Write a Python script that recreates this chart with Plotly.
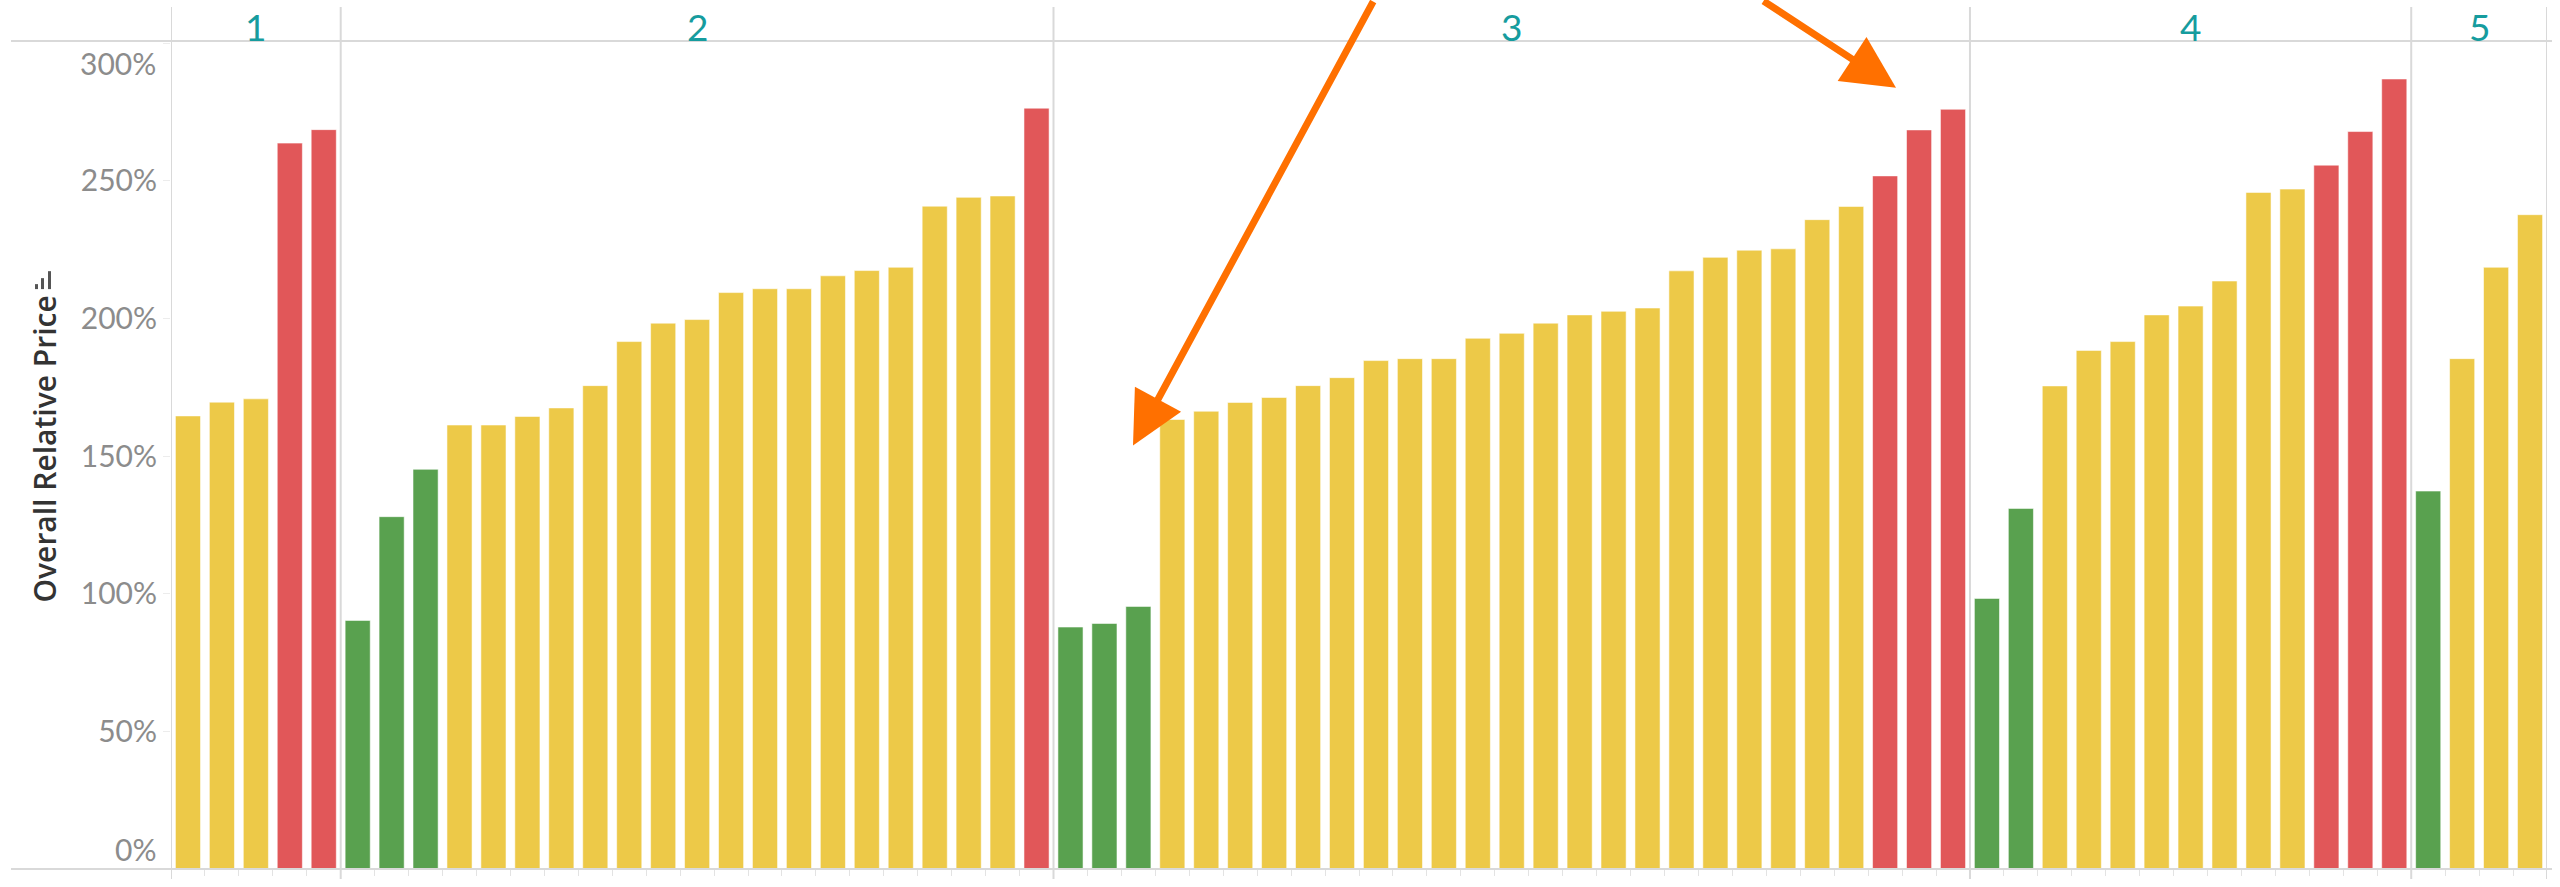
import plotly.graph_objects as go

# ---- data ----
group_names = ["1", "2", "3", "4", "5"]
group1 = [164.6, 169.6, 170.8, 263.7, 268.6]
group2 = [90.3, 128.0, 145.2, 161.3, 161.3, 164.4, 167.5, 175.6, 191.6, 198.3, 199.6,
          209.4, 210.8, 210.8, 215.5, 217.4, 218.6, 240.8, 244.0, 244.5, 276.4]
group3 = [87.9, 89.2, 95.4, 163.3, 166.3, 169.5, 171.3, 175.6, 178.5, 184.7, 185.4,
          185.4, 192.8, 194.6, 198.3, 201.3, 202.6, 203.8, 217.3, 222.2, 224.8, 225.3,
          235.9, 240.7, 251.8, 268.5, 276.0]
group4 = [98.3, 131.0, 175.5, 188.4, 191.6, 201.3, 204.5, 213.6, 245.8, 247.0, 255.7,
          267.9, 287.0]
group5 = [137.3, 185.4, 218.6, 237.7]
y_ticks = [0, 50, 100, 150, 200, 250, 300]
y_tick_labels = ["0%", "50%", "100%", "150%", "200%", "250%", "300%"]
low_threshold = 150
high_threshold = 250

groups = [group1, group2, group3, group4, group5]

GREEN = "#59A14F"
YELLOW = "#EDC948"
RED = "#E15759"
GRID = "#d9d9d9"
TEAL = "#169c9e"
TICK_GRAY = "#8c8c8c"

values = []
group_of_bar = []
for name, g in zip(group_names, groups):
    values.extend(g)
    group_of_bar.extend([name] * len(g))
positions = list(range(len(values)))

def band_color(v):
    if v < low_threshold:
        return GREEN
    if v > high_threshold:
        return RED
    return YELLOW

colors = [band_color(v) for v in values]

fig = go.Figure()
fig.add_trace(go.Bar(
    x=positions, y=values, width=0.74,
    marker=dict(color=colors, line=dict(color="rgba(255,255,255,0.55)", width=1)),
    customdata=group_of_bar,
    hovertemplate="Group %{customdata}<br>%{y:.1f}%<extra></extra>",
    showlegend=False,
))

W, H = 2560, 887
L, R, T, B = 171, 13, 41, 15
plot_w = W - L - R
plot_h = H - T - B

def px_x(p):
    return (p - L) / plot_w

def px_y(p):
    return (H - B - p) / plot_h

shapes = []
# panel separators
bounds = [-0.5]
for g in groups:
    bounds.append(bounds[-1] + len(g))
for b in bounds:
    shapes.append(dict(type="line", xref="x", yref="paper", x0=b, x1=b,
                       y0=px_y(882), y1=px_y(7), line=dict(color=GRID, width=2)))
# header baseline and axis baseline
for yp in (1.0, 0.0):
    shapes.append(dict(type="line", xref="paper", yref="paper", x0=px_x(11), x1=px_x(2552),
                       y0=yp, y1=yp, line=dict(color=GRID, width=2)))
# small sort icon near axis title
for (x0, x1, ytop) in [(35, 38, 285), (41, 44, 279), (48, 51, 272)]:
    shapes.append(dict(type="rect", xref="paper", yref="paper", x0=px_x(x0), x1=px_x(x1),
                       y0=px_y(290), y1=px_y(ytop), fillcolor="#555555", line=dict(width=0)))

annotations = []
# group headers
start = 0
for name, g in zip(group_names, groups):
    center = start + (len(g) - 1) / 2
    annotations.append(dict(x=center, y=px_y(26), xref="x", yref="paper", text=name,
                            showarrow=False, xanchor="center", yanchor="middle", borderpad=0,
                            font=dict(family="Lato", size=37, color=TEAL)))
    start += len(g)
# y axis title
annotations.append(dict(x=px_x(45), y=px_y(451), xref="paper", yref="paper",
                        text="Overall Relative Price", textangle=-90, showarrow=False,
                        xanchor="center", yanchor="middle",
                        font=dict(family="Open Sans", size=30, color="#333333", weight=600)))
# edge tick labels (shifted inward like the original)
annotations.append(dict(x=px_x(158), y=0, xref="paper", yref="y", text=y_tick_labels[0],
                        showarrow=False, xanchor="right", yshift=20,
                        font=dict(family="Lato", size=30, color=TICK_GRAY)))
annotations.append(dict(x=px_x(158), y=300, xref="paper", yref="y", text=y_tick_labels[-1],
                        showarrow=False, xanchor="right", yshift=-20,
                        font=dict(family="Lato", size=30, color=TICK_GRAY)))
# orange arrows
ORANGE = "#FF7000"
annotations.append(dict(x=px_x(1133), y=px_y(447), xref="paper", yref="paper",
                        ax=1374 - 1133, ay=-447, axref="pixel", ayref="pixel",
                        text="", showarrow=True, arrowhead=2, arrowsize=1.5,
                        arrowwidth=7, arrowcolor=ORANGE))
annotations.append(dict(x=px_x(1896), y=px_y(88), xref="paper", yref="paper",
                        ax=1762 - 1896, ay=-88, axref="pixel", ayref="pixel",
                        text="", showarrow=True, arrowhead=2, arrowsize=1.5,
                        arrowwidth=7, arrowcolor=ORANGE))

mid_text = ["" if v in (0, 300) else t for v, t in zip(y_ticks, y_tick_labels)]

fig.update_layout(
    width=W, height=H,
    margin=dict(l=L, r=R, t=T, b=B),
    paper_bgcolor="white", plot_bgcolor="white",
    bargap=0.26,
    shapes=shapes,
    annotations=annotations,
    xaxis=dict(range=[-0.5, len(values) - 0.5], showgrid=False, zeroline=False,
               showline=False, tickmode="array",
               tickvals=[p + 0.5 for p in positions[:-1]], ticktext=[""] * (len(values) - 1),
               ticks="outside", ticklen=6, tickcolor="#e3e3e3", tickwidth=1),
    yaxis=dict(range=[0, 300.8], showgrid=False, zeroline=False, showline=False,
               tickmode="array", tickvals=y_ticks, ticktext=mid_text,
               ticks="outside", ticklen=7, tickcolor="#ececec",
               tickfont=dict(family="Lato", size=30, color=TICK_GRAY)),
)

fig.write_html("out.html", config={"displayModeBar": False},
               post_script="document.body.style.margin='0';document.body.style.overflow='hidden';")
